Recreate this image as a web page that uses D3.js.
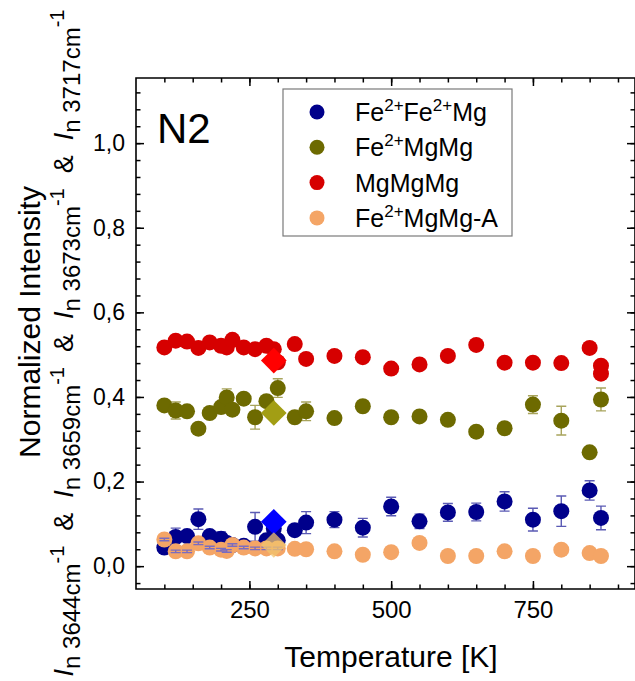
<!DOCTYPE html>
<html>
<head>
<meta charset="utf-8">
<script src="https://cdn.jsdelivr.net/npm/d3@7"></script>
<style>
  body { margin: 0; background: #fff; }
  svg { display: block; font-family: Arial, "Liberation Sans", sans-serif; }
</style>
</head>
<body>
<div id="chart"></div>
<script>
const W = 635, H = 681;

// Fe2+Fe2+Mg band
const navyT = [100,120,140,160,180,200,210,220,240,260,280,293,300,330,350,400,450,500,550,600,650,700,750,800,850,870];
const navyV = [0.044,0.069,0.071,0.111,0.071,0.065,0.055,0.050,0.048,0.093,0.061,0.089,0.061,0.085,0.103,0.110,0.091,0.141,0.106,0.127,0.128,0.153,0.110,0.130,0.179,0.114];
const navyE = [0.010,0.021,0.010,0.024,0.012,0.016,0.010,0.010,0.010,0.034,0.010,0.021,0.010,0.010,0.026,0.019,0.022,0.022,0.017,0.021,0.021,0.023,0.027,0.036,0.023,0.028];

// Fe2+MgMg band
const oliveT = [100,120,140,160,180,200,210,220,240,260,280,300,330,350,400,450,500,550,600,650,700,750,800,850,870];
const oliveV = [0.380,0.368,0.366,0.325,0.362,0.376,0.399,0.370,0.396,0.352,0.390,0.421,0.352,0.366,0.350,0.378,0.352,0.354,0.346,0.318,0.326,0.382,0.344,0.269,0.394];
const oliveE = [0.008,0.020,0.008,0.008,0.008,0.012,0.020,0.008,0.008,0.028,0.008,0.022,0.008,0.022,0.008,0.012,0.008,0.008,0.008,0.008,0.008,0.021,0.034,0.008,0.027];

// MgMgMg band
const redT = [100,120,140,160,180,200,210,220,240,260,280,293,300,330,350,400,450,500,550,600,650,700,750,800,850,870,870];
const redV = [0.517,0.533,0.531,0.516,0.529,0.521,0.517,0.535,0.517,0.513,0.521,0.513,0.482,0.525,0.490,0.497,0.494,0.467,0.477,0.497,0.523,0.481,0.481,0.480,0.516,0.474,0.455];

// Fe2+MgMg-A band
const orangeT = [100,120,140,160,180,200,210,220,240,260,280,300,330,350,400,450,500,550,600,650,700,750,800,850,870];
const orangeV = [0.063,0.035,0.035,0.054,0.044,0.039,0.036,0.050,0.044,0.042,0.042,0.042,0.041,0.040,0.035,0.027,0.033,0.055,0.024,0.024,0.035,0.024,0.039,0.031,0.024];

// single room-temperature reference points (diamonds)
const refT = 293;
const refV = [0.105, 0.486, 0.362, 0.050];
const refColors = ["#0000ff", "#ff0000", "#a29e14", "#f2c46e"];

const xTicks = [250, 500, 750];
const yTicks = [0, 0.2, 0.4, 0.6, 0.8, 1.0];

const legendNames = ["Fe2+Fe2+Mg", "Fe2+MgMg", "MgMgMg", "Fe2+MgMg-A"];
const colors = ["#00008b", "#6d6a00", "#d60000", "#f4a566"];
const waves = ["3644", "3659", "3673", "3717"];

const x = d3.scaleLinear().domain([50, 930]).range([136, 635]);
const y = d3.scaleLinear().domain([-0.054, 1.154]).range([589, 78]);

const svg = d3.select("#chart").append("svg").attr("width", W).attr("height", H);

const comma = d => d3.format(".1f")(d).replace(".", ",");

// ticks all point inward, on every side
function addAxis(axis, tr) {
  const g = svg.append("g").attr("transform", tr).call(axis);
  g.select(".domain").remove();
  g.selectAll("line").attr("stroke", "#000").attr("stroke-width", 1.5);
  return g;
}

const minorX = d3.range(100, 930, 50);
const minorY = d3.range(-0.04, 1.15, 0.04);

const bx = addAxis(d3.axisBottom(x).tickValues(xTicks).tickSize(-8).tickPadding(11.5), "translate(0,589)");
addAxis(d3.axisBottom(x).tickValues(minorX).tickSize(-4.5).tickFormat(""), "translate(0,589)");
addAxis(d3.axisTop(x).tickValues(xTicks).tickSize(-8).tickFormat(""), "translate(0,78)");
addAxis(d3.axisTop(x).tickValues(minorX).tickSize(-4.5).tickFormat(""), "translate(0,78)");

const ly = addAxis(d3.axisLeft(y).tickValues(yTicks).tickSize(-8).tickPadding(11).tickFormat(comma), "translate(136,0)");
addAxis(d3.axisLeft(y).tickValues(minorY).tickSize(-4.5).tickFormat(""), "translate(136,0)");
addAxis(d3.axisRight(y).tickValues(yTicks).tickSize(-8).tickFormat(""), "translate(635,0)");
addAxis(d3.axisRight(y).tickValues(minorY).tickSize(-4.5).tickFormat(""), "translate(635,0)");

bx.selectAll("text").attr("font-size", 24).attr("font-family", "Arial, 'Liberation Sans'").attr("fill", "#000");
ly.selectAll("text").attr("font-size", 23).attr("font-family", "Arial, 'Liberation Sans'").attr("fill", "#000");

// frame
svg.append("path")
  .attr("d", "M136,78H635V589H136Z")
  .attr("fill", "none").attr("stroke", "#000").attr("stroke-width", 1.6);

const plot = svg.append("g");

function errBars(T, V, E, color) {
  const g = plot.append("g").attr("stroke", color).attr("stroke-width", 1.4).attr("fill", "none");
  T.forEach((t, i) => {
    const cx = x(t), y0 = y(V[i] - E[i]), y1 = y(V[i] + E[i]);
    g.append("path").attr("d", `M${cx},${y0}V${y1}M${cx - 5},${y0}H${cx + 5}M${cx - 5},${y1}H${cx + 5}`);
  });
}

function dots(T, V, color) {
  plot.append("g").selectAll("circle")
    .data(T.map((t, i) => [t, V[i]]))
    .join("circle")
    .attr("cx", d => x(d[0]))
    .attr("cy", d => y(d[1]))
    .attr("r", 8)
    .attr("fill", color);
}

errBars(navyT, navyV, navyE, "#5a5ab4");
dots(navyT, navyV, colors[0]);
errBars(oliveT, oliveV, oliveE, "#a8a45c");
dots(oliveT, oliveV, colors[1]);
dots(redT, redV, colors[2]);
dots(orangeT, orangeV, colors[3]);

// tiny error bars on the low temperature A-band points
const lowT = orangeT.filter(t => t <= 300);
errBars(lowT, orangeV.slice(0, lowT.length), lowT.map(() => 0.003), "#7a6cc0");

// reference diamonds
plot.append("g").selectAll("path")
  .data(refV)
  .join("path")
  .attr("d", d3.symbol().type(d3.symbolDiamond2).size(420))
  .attr("transform", d => `translate(${x(refT)},${y(d)})`)
  .attr("fill", (d, i) => refColors[i])
  .attr("opacity", (d, i) => i == 3 ? 0.75 : 1);

// sample label
svg.append("text").attr("x", 157).attr("y", 143).attr("font-size", 42).text("N2");

// legend
const lg = svg.append("g");
lg.append("rect").attr("x", 283).attr("y", 89).attr("width", 229).attr("height", 147)
  .attr("fill", "#fff").attr("stroke", "#7a7a7a").attr("stroke-width", 1.2);

legendNames.forEach((name, i) => {
  const cy = 112 + i * 35.3;
  lg.append("circle").attr("cx", 317).attr("cy", cy).attr("r", 7.5).attr("fill", colors[i]);
  const t = lg.append("text").attr("x", 355).attr("y", cy + 9).attr("font-size", 25);
  // "2+" is raised, the text after it drops back to the baseline
  let raised = false;
  name.split(/(2\+)/).filter(p => p).forEach(part => {
    if (part == "2+") { t.append("tspan").attr("font-size", 17).attr("dy", -10).text(part); raised = true; }
    else { t.append("tspan").attr("dy", raised ? 10 : 0).text(part); raised = false; }
  });
});

// axis titles
svg.append("text").attr("x", 391).attr("y", 667).attr("text-anchor", "middle")
  .attr("font-size", 30).text("Temperature [K]");

svg.append("text").attr("transform", "translate(40,322) rotate(-90)")
  .attr("text-anchor", "middle").attr("font-size", 30).text("Normalized Intensity");

const yt = svg.append("text").attr("transform", "translate(73,343) rotate(-90)")
  .attr("text-anchor", "middle").attr("font-size", 27);
waves.forEach((w, i) => {
  if (i > 0) yt.append("tspan").attr("dy", 9).text("\u00a0\u00a0&\u00a0\u00a0");
  yt.append("tspan").attr("font-style", "italic").text("I");
  yt.append("tspan").attr("font-size", 24).attr("dy", 7).text("n\u00a0" + w + "cm");
  yt.append("tspan").attr("font-size", 20).attr("dy", -16).text("-1");
});
</script>
</body>
</html>
